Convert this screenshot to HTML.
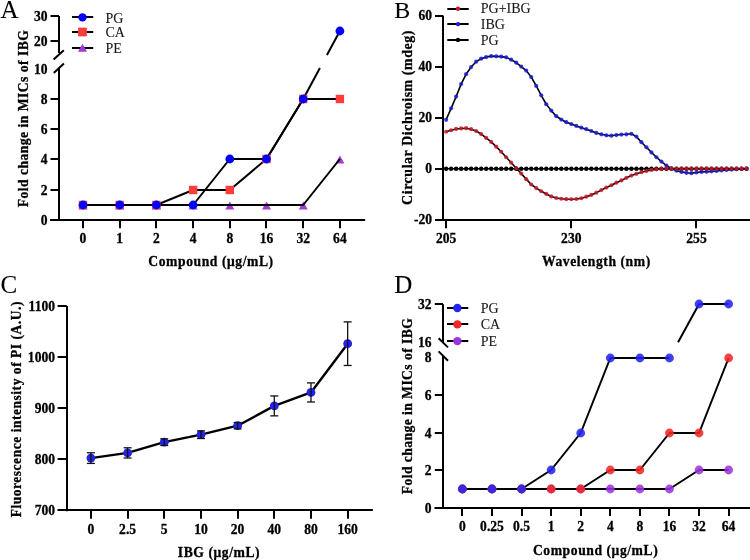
<!DOCTYPE html>
<html><head><meta charset="utf-8"><style>html,body{margin:0;padding:0;background:#fff;width:750px;height:560px;overflow:hidden}svg{display:block;will-change:transform;filter:blur(0.3px)}text{font-family:"Liberation Serif",serif}</style></head><body>
<svg width="750" height="560" viewBox="0 0 750 560"><text x="0" y="0" transform="translate(0.60 17.60)" font-family="Liberation Serif" font-size="25" fill="#000" stroke="#000" stroke-width="0.1" text-anchor="start">A</text>
<line x1="59.00" y1="16.00" x2="59.00" y2="53.00" stroke="#000" stroke-width="2" stroke-linecap="butt"/>
<line x1="59.00" y1="67.50" x2="59.00" y2="220.70" stroke="#000" stroke-width="2" stroke-linecap="butt"/>
<line x1="53.60" y1="59.50" x2="63.80" y2="50.20" stroke="#000" stroke-width="2" stroke-linecap="butt"/>
<line x1="53.80" y1="72.90" x2="63.90" y2="63.40" stroke="#000" stroke-width="2" stroke-linecap="butt"/>
<line x1="50.50" y1="16.00" x2="59.00" y2="16.00" stroke="#000" stroke-width="2" stroke-linecap="butt"/>
<text x="0" y="0" transform="translate(47.50 20.60) scale(0.95 1.0)" font-family="Liberation Serif" font-size="14.3" font-weight="bold" fill="#000" stroke="#000" stroke-width="0.3" text-anchor="end">30</text>
<line x1="50.50" y1="41.00" x2="59.00" y2="41.00" stroke="#000" stroke-width="2" stroke-linecap="butt"/>
<text x="0" y="0" transform="translate(47.50 45.60) scale(0.95 1.0)" font-family="Liberation Serif" font-size="14.3" font-weight="bold" fill="#000" stroke="#000" stroke-width="0.3" text-anchor="end">20</text>
<text x="0" y="0" transform="translate(47.50 73.50) scale(0.95 1.0)" font-family="Liberation Serif" font-size="14.3" font-weight="bold" fill="#000" stroke="#000" stroke-width="0.3" text-anchor="end">10</text>
<line x1="50.50" y1="99.00" x2="59.00" y2="99.00" stroke="#000" stroke-width="2" stroke-linecap="butt"/>
<text x="0" y="0" transform="translate(47.50 103.60) scale(0.95 1.0)" font-family="Liberation Serif" font-size="14.3" font-weight="bold" fill="#000" stroke="#000" stroke-width="0.3" text-anchor="end">8</text>
<line x1="50.50" y1="129.00" x2="59.00" y2="129.00" stroke="#000" stroke-width="2" stroke-linecap="butt"/>
<text x="0" y="0" transform="translate(47.50 133.60) scale(0.95 1.0)" font-family="Liberation Serif" font-size="14.3" font-weight="bold" fill="#000" stroke="#000" stroke-width="0.3" text-anchor="end">6</text>
<line x1="50.50" y1="159.00" x2="59.00" y2="159.00" stroke="#000" stroke-width="2" stroke-linecap="butt"/>
<text x="0" y="0" transform="translate(47.50 163.60) scale(0.95 1.0)" font-family="Liberation Serif" font-size="14.3" font-weight="bold" fill="#000" stroke="#000" stroke-width="0.3" text-anchor="end">4</text>
<line x1="50.50" y1="190.00" x2="59.00" y2="190.00" stroke="#000" stroke-width="2" stroke-linecap="butt"/>
<text x="0" y="0" transform="translate(47.50 194.60) scale(0.95 1.0)" font-family="Liberation Serif" font-size="14.3" font-weight="bold" fill="#000" stroke="#000" stroke-width="0.3" text-anchor="end">2</text>
<line x1="50.50" y1="220.00" x2="59.00" y2="220.00" stroke="#000" stroke-width="2" stroke-linecap="butt"/>
<text x="0" y="0" transform="translate(47.50 224.60) scale(0.95 1.0)" font-family="Liberation Serif" font-size="14.3" font-weight="bold" fill="#000" stroke="#000" stroke-width="0.3" text-anchor="end">0</text>
<line x1="50.20" y1="220.00" x2="365.20" y2="220.00" stroke="#000" stroke-width="2" stroke-linecap="butt"/>
<line x1="83.00" y1="219.70" x2="83.00" y2="228.20" stroke="#000" stroke-width="2" stroke-linecap="butt"/>
<text x="0" y="0" transform="translate(83.00 243.00) scale(0.95 1.0)" font-family="Liberation Serif" font-size="14.3" font-weight="bold" fill="#000" stroke="#000" stroke-width="0.3" text-anchor="middle">0</text>
<line x1="120.00" y1="219.70" x2="120.00" y2="228.20" stroke="#000" stroke-width="2" stroke-linecap="butt"/>
<text x="0" y="0" transform="translate(119.70 243.00) scale(0.95 1.0)" font-family="Liberation Serif" font-size="14.3" font-weight="bold" fill="#000" stroke="#000" stroke-width="0.3" text-anchor="middle">1</text>
<line x1="156.00" y1="219.70" x2="156.00" y2="228.20" stroke="#000" stroke-width="2" stroke-linecap="butt"/>
<text x="0" y="0" transform="translate(156.40 243.00) scale(0.95 1.0)" font-family="Liberation Serif" font-size="14.3" font-weight="bold" fill="#000" stroke="#000" stroke-width="0.3" text-anchor="middle">2</text>
<line x1="193.00" y1="219.70" x2="193.00" y2="228.20" stroke="#000" stroke-width="2" stroke-linecap="butt"/>
<text x="0" y="0" transform="translate(193.10 243.00) scale(0.95 1.0)" font-family="Liberation Serif" font-size="14.3" font-weight="bold" fill="#000" stroke="#000" stroke-width="0.3" text-anchor="middle">4</text>
<line x1="230.00" y1="219.70" x2="230.00" y2="228.20" stroke="#000" stroke-width="2" stroke-linecap="butt"/>
<text x="0" y="0" transform="translate(229.80 243.00) scale(0.95 1.0)" font-family="Liberation Serif" font-size="14.3" font-weight="bold" fill="#000" stroke="#000" stroke-width="0.3" text-anchor="middle">8</text>
<line x1="266.00" y1="219.70" x2="266.00" y2="228.20" stroke="#000" stroke-width="2" stroke-linecap="butt"/>
<text x="0" y="0" transform="translate(266.50 243.00) scale(0.95 1.0)" font-family="Liberation Serif" font-size="14.3" font-weight="bold" fill="#000" stroke="#000" stroke-width="0.3" text-anchor="middle">16</text>
<line x1="303.00" y1="219.70" x2="303.00" y2="228.20" stroke="#000" stroke-width="2" stroke-linecap="butt"/>
<text x="0" y="0" transform="translate(303.20 243.00) scale(0.95 1.0)" font-family="Liberation Serif" font-size="14.3" font-weight="bold" fill="#000" stroke="#000" stroke-width="0.3" text-anchor="middle">32</text>
<line x1="340.00" y1="219.70" x2="340.00" y2="228.20" stroke="#000" stroke-width="2" stroke-linecap="butt"/>
<text x="0" y="0" transform="translate(339.90 243.00) scale(0.95 1.0)" font-family="Liberation Serif" font-size="14.3" font-weight="bold" fill="#000" stroke="#000" stroke-width="0.3" text-anchor="middle">64</text>
<text x="0" y="0" transform="translate(211.00 265.60) scale(0.94 1.0)" font-family="Liberation Serif" font-size="14.5" font-weight="bold" letter-spacing="0.6" fill="#000" stroke="#000" stroke-width="0.3" text-anchor="middle">Compound (μg/mL)</text>
<text x="0" y="0" transform="translate(28.00 118.50) rotate(-90) scale(0.94 1.0)" font-family="Liberation Serif" font-size="14.5" font-weight="bold" letter-spacing="0.5" fill="#000" stroke="#000" stroke-width="0.3" text-anchor="middle">Fold change in MICs of IBG</text>
<polygon points="78.50,209.55 87.50,209.55 83.00,201.45" fill="#a23ad8"/>
<polygon points="115.20,209.55 124.20,209.55 119.70,201.45" fill="#a23ad8"/>
<polygon points="151.90,209.55 160.90,209.55 156.40,201.45" fill="#a23ad8"/>
<polygon points="188.60,209.55 197.60,209.55 193.10,201.45" fill="#a23ad8"/>
<polygon points="225.30,209.55 234.30,209.55 229.80,201.45" fill="#a23ad8"/>
<polygon points="262.00,209.55 271.00,209.55 266.50,201.45" fill="#a23ad8"/>
<polygon points="298.70,209.55 307.70,209.55 303.20,201.45" fill="#a23ad8"/>
<polygon points="335.40,163.55 344.40,163.55 339.90,155.45" fill="#a23ad8"/>
<polyline points="83.00,205.00 119.70,205.00 156.40,205.00 193.10,205.00 229.80,205.00 266.50,205.00 303.20,205.00 339.90,159.00" fill="none" stroke="#000" stroke-width="2" stroke-linejoin="round"/>
<polyline points="83.00,205.00 119.70,205.00 156.40,205.00 193.10,190.00 229.80,190.00 266.50,159.00 303.20,99.00 339.90,99.00" fill="none" stroke="#000" stroke-width="2" stroke-linejoin="round"/>
<polyline points="83.00,205.00 119.70,205.00 156.40,205.00 193.10,205.00 229.80,159.00 266.50,159.00 303.20,99.00" fill="none" stroke="#000" stroke-width="2" stroke-linejoin="round"/>
<line x1="303.20" y1="99.00" x2="319.93" y2="68.00" stroke="#000" stroke-width="2" stroke-linecap="butt"/>
<line x1="326.95" y1="55.00" x2="339.90" y2="31.00" stroke="#000" stroke-width="2" stroke-linecap="butt"/>
<rect x="78.80" y="200.80" width="8.4" height="8.4" fill="#ff3b3b"/>
<rect x="115.50" y="200.80" width="8.4" height="8.4" fill="#ff3b3b"/>
<rect x="152.20" y="200.80" width="8.4" height="8.4" fill="#ff3b3b"/>
<rect x="188.90" y="185.80" width="8.4" height="8.4" fill="#ff3b3b"/>
<rect x="225.60" y="185.80" width="8.4" height="8.4" fill="#ff3b3b"/>
<rect x="262.30" y="154.80" width="8.4" height="8.4" fill="#ff3b3b"/>
<rect x="299.00" y="94.80" width="8.4" height="8.4" fill="#ff3b3b"/>
<rect x="335.70" y="94.80" width="8.4" height="8.4" fill="#ff3b3b"/>
<circle cx="83.00" cy="205.00" r="4.4" fill="#0000ff"/>
<circle cx="119.70" cy="205.00" r="4.4" fill="#0000ff"/>
<circle cx="156.40" cy="205.00" r="4.4" fill="#0000ff"/>
<circle cx="193.10" cy="205.00" r="4.4" fill="#0000ff"/>
<circle cx="229.80" cy="159.00" r="4.4" fill="#0000ff"/>
<circle cx="266.50" cy="159.00" r="4.4" fill="#0000ff"/>
<circle cx="303.20" cy="99.00" r="4.4" fill="#0000ff"/>
<circle cx="339.90" cy="31.00" r="4.4" fill="#0000ff"/>
<line x1="72.00" y1="17.00" x2="93.20" y2="17.00" stroke="#000" stroke-width="2" stroke-linecap="butt"/>
<circle cx="82.50" cy="17.40" r="4.2" fill="#0000ff"/>
<text x="0" y="0" transform="translate(105.50 22.70)" font-family="Liberation Serif" font-size="14" fill="#1a1a1a" stroke="#1a1a1a" stroke-width="0.1" text-anchor="start">PG</text>
<line x1="72.00" y1="32.00" x2="93.20" y2="32.00" stroke="#000" stroke-width="2" stroke-linecap="butt"/>
<rect x="78.15" y="27.65" width="8.7" height="8.7" fill="#ff3b3b"/>
<text x="0" y="0" transform="translate(105.50 37.30)" font-family="Liberation Serif" font-size="14" fill="#1a1a1a" stroke="#1a1a1a" stroke-width="0.1" text-anchor="start">CA</text>
<line x1="72.00" y1="48.00" x2="93.20" y2="48.00" stroke="#000" stroke-width="2" stroke-linecap="butt"/>
<polygon points="78.00,51.85 87.00,51.85 82.50,43.75" fill="#a23ad8"/>
<text x="0" y="0" transform="translate(105.50 52.80)" font-family="Liberation Serif" font-size="14" fill="#1a1a1a" stroke="#1a1a1a" stroke-width="0.1" text-anchor="start">PE</text>
<text x="0" y="0" transform="translate(394.20 17.50)" font-family="Liberation Serif" font-size="24" fill="#000" stroke="#000" stroke-width="0.1" text-anchor="start">B</text>
<line x1="443.00" y1="15.80" x2="443.00" y2="220.60" stroke="#000" stroke-width="2" stroke-linecap="butt"/>
<line x1="435.00" y1="16.00" x2="443.30" y2="16.00" stroke="#000" stroke-width="2" stroke-linecap="butt"/>
<text x="0" y="0" transform="translate(432.00 20.45) scale(0.95 1.0)" font-family="Liberation Serif" font-size="14.3" font-weight="bold" fill="#000" stroke="#000" stroke-width="0.3" text-anchor="end">60</text>
<line x1="435.00" y1="67.00" x2="443.30" y2="67.00" stroke="#000" stroke-width="2" stroke-linecap="butt"/>
<text x="0" y="0" transform="translate(432.00 71.40) scale(0.95 1.0)" font-family="Liberation Serif" font-size="14.3" font-weight="bold" fill="#000" stroke="#000" stroke-width="0.3" text-anchor="end">40</text>
<line x1="435.00" y1="118.00" x2="443.30" y2="118.00" stroke="#000" stroke-width="2" stroke-linecap="butt"/>
<text x="0" y="0" transform="translate(432.00 122.35) scale(0.95 1.0)" font-family="Liberation Serif" font-size="14.3" font-weight="bold" fill="#000" stroke="#000" stroke-width="0.3" text-anchor="end">20</text>
<line x1="435.00" y1="169.00" x2="443.30" y2="169.00" stroke="#000" stroke-width="2" stroke-linecap="butt"/>
<text x="0" y="0" transform="translate(432.00 173.30) scale(0.95 1.0)" font-family="Liberation Serif" font-size="14.3" font-weight="bold" fill="#000" stroke="#000" stroke-width="0.3" text-anchor="end">0</text>
<line x1="435.00" y1="220.00" x2="443.30" y2="220.00" stroke="#000" stroke-width="2" stroke-linecap="butt"/>
<text x="0" y="0" transform="translate(432.00 224.25) scale(0.95 1.0)" font-family="Liberation Serif" font-size="14.3" font-weight="bold" fill="#000" stroke="#000" stroke-width="0.3" text-anchor="end">-20</text>
<line x1="435.00" y1="220.00" x2="750.00" y2="220.00" stroke="#000" stroke-width="2" stroke-linecap="butt"/>
<line x1="446.00" y1="219.60" x2="446.00" y2="228.20" stroke="#000" stroke-width="2" stroke-linecap="butt"/>
<text x="0" y="0" transform="translate(446.10 242.60) scale(0.95 1.0)" font-family="Liberation Serif" font-size="14.3" font-weight="bold" fill="#000" stroke="#000" stroke-width="0.3" text-anchor="middle">205</text>
<line x1="571.00" y1="219.60" x2="571.00" y2="228.20" stroke="#000" stroke-width="2" stroke-linecap="butt"/>
<text x="0" y="0" transform="translate(571.30 242.60) scale(0.95 1.0)" font-family="Liberation Serif" font-size="14.3" font-weight="bold" fill="#000" stroke="#000" stroke-width="0.3" text-anchor="middle">230</text>
<line x1="696.00" y1="219.60" x2="696.00" y2="228.20" stroke="#000" stroke-width="2" stroke-linecap="butt"/>
<text x="0" y="0" transform="translate(696.50 242.60) scale(0.95 1.0)" font-family="Liberation Serif" font-size="14.3" font-weight="bold" fill="#000" stroke="#000" stroke-width="0.3" text-anchor="middle">255</text>
<text x="0" y="0" transform="translate(596.40 265.60) scale(0.94 1.0)" font-family="Liberation Serif" font-size="14.5" font-weight="bold" letter-spacing="0.6" fill="#000" stroke="#000" stroke-width="0.3" text-anchor="middle">Wavelength (nm)</text>
<text x="0" y="0" transform="translate(411.50 117.50) rotate(-90) scale(0.94 1.0)" font-family="Liberation Serif" font-size="14.8" font-weight="bold" letter-spacing="0.6" fill="#000" stroke="#000" stroke-width="0.3" text-anchor="middle">Circular Dichroism (mdeg)</text>
<polyline points="446.10,168.70 451.11,168.70 456.12,168.70 461.12,168.70 466.13,168.70 471.14,168.70 476.15,168.70 481.16,168.70 486.16,168.70 491.17,168.70 496.18,168.70 501.19,168.70 506.20,168.70 511.20,168.70 516.21,168.70 521.22,168.70 526.23,168.70 531.24,168.70 536.24,168.70 541.25,168.70 546.26,168.70 551.27,168.70 556.28,168.70 561.28,168.70 566.29,168.70 571.30,168.70 576.31,168.70 581.32,168.70 586.32,168.70 591.33,168.70 596.34,168.70 601.35,168.70 606.36,168.70 611.36,168.70 616.37,168.70 621.38,168.70 626.39,168.70 631.40,168.70 636.40,168.70 641.41,168.70 646.42,168.70 651.43,168.70 656.44,168.70 661.44,168.70 666.45,168.70 671.46,168.70 676.47,168.70 681.48,168.70 686.48,168.70 691.49,168.70 696.50,168.70 701.51,168.70 706.52,168.70 711.52,168.70 716.53,168.70 721.54,168.70 726.55,168.70 731.56,168.70 736.56,168.70 741.57,168.70 746.58,168.70" fill="none" stroke="#000" stroke-width="1.6" stroke-linejoin="round"/>
<circle cx="446.10" cy="168.70" r="2.2" fill="#000"/>
<circle cx="451.11" cy="168.70" r="2.2" fill="#000"/>
<circle cx="456.12" cy="168.70" r="2.2" fill="#000"/>
<circle cx="461.12" cy="168.70" r="2.2" fill="#000"/>
<circle cx="466.13" cy="168.70" r="2.2" fill="#000"/>
<circle cx="471.14" cy="168.70" r="2.2" fill="#000"/>
<circle cx="476.15" cy="168.70" r="2.2" fill="#000"/>
<circle cx="481.16" cy="168.70" r="2.2" fill="#000"/>
<circle cx="486.16" cy="168.70" r="2.2" fill="#000"/>
<circle cx="491.17" cy="168.70" r="2.2" fill="#000"/>
<circle cx="496.18" cy="168.70" r="2.2" fill="#000"/>
<circle cx="501.19" cy="168.70" r="2.2" fill="#000"/>
<circle cx="506.20" cy="168.70" r="2.2" fill="#000"/>
<circle cx="511.20" cy="168.70" r="2.2" fill="#000"/>
<circle cx="516.21" cy="168.70" r="2.2" fill="#000"/>
<circle cx="521.22" cy="168.70" r="2.2" fill="#000"/>
<circle cx="526.23" cy="168.70" r="2.2" fill="#000"/>
<circle cx="531.24" cy="168.70" r="2.2" fill="#000"/>
<circle cx="536.24" cy="168.70" r="2.2" fill="#000"/>
<circle cx="541.25" cy="168.70" r="2.2" fill="#000"/>
<circle cx="546.26" cy="168.70" r="2.2" fill="#000"/>
<circle cx="551.27" cy="168.70" r="2.2" fill="#000"/>
<circle cx="556.28" cy="168.70" r="2.2" fill="#000"/>
<circle cx="561.28" cy="168.70" r="2.2" fill="#000"/>
<circle cx="566.29" cy="168.70" r="2.2" fill="#000"/>
<circle cx="571.30" cy="168.70" r="2.2" fill="#000"/>
<circle cx="576.31" cy="168.70" r="2.2" fill="#000"/>
<circle cx="581.32" cy="168.70" r="2.2" fill="#000"/>
<circle cx="586.32" cy="168.70" r="2.2" fill="#000"/>
<circle cx="591.33" cy="168.70" r="2.2" fill="#000"/>
<circle cx="596.34" cy="168.70" r="2.2" fill="#000"/>
<circle cx="601.35" cy="168.70" r="2.2" fill="#000"/>
<circle cx="606.36" cy="168.70" r="2.2" fill="#000"/>
<circle cx="611.36" cy="168.70" r="2.2" fill="#000"/>
<circle cx="616.37" cy="168.70" r="2.2" fill="#000"/>
<circle cx="621.38" cy="168.70" r="2.2" fill="#000"/>
<circle cx="626.39" cy="168.70" r="2.2" fill="#000"/>
<circle cx="631.40" cy="168.70" r="2.2" fill="#000"/>
<circle cx="636.40" cy="168.70" r="2.2" fill="#000"/>
<circle cx="641.41" cy="168.70" r="2.2" fill="#000"/>
<circle cx="646.42" cy="168.70" r="2.2" fill="#000"/>
<circle cx="651.43" cy="168.70" r="2.2" fill="#000"/>
<circle cx="656.44" cy="168.70" r="2.2" fill="#000"/>
<circle cx="661.44" cy="168.70" r="2.2" fill="#000"/>
<circle cx="666.45" cy="168.70" r="2.2" fill="#000"/>
<circle cx="671.46" cy="168.70" r="2.2" fill="#000"/>
<circle cx="676.47" cy="168.70" r="2.2" fill="#000"/>
<circle cx="681.48" cy="168.70" r="2.2" fill="#000"/>
<circle cx="686.48" cy="168.70" r="2.2" fill="#000"/>
<circle cx="691.49" cy="168.70" r="2.2" fill="#000"/>
<circle cx="696.50" cy="168.70" r="2.2" fill="#000"/>
<circle cx="701.51" cy="168.70" r="2.2" fill="#000"/>
<circle cx="706.52" cy="168.70" r="2.2" fill="#000"/>
<circle cx="711.52" cy="168.70" r="2.2" fill="#000"/>
<circle cx="716.53" cy="168.70" r="2.2" fill="#000"/>
<circle cx="721.54" cy="168.70" r="2.2" fill="#000"/>
<circle cx="726.55" cy="168.70" r="2.2" fill="#000"/>
<circle cx="731.56" cy="168.70" r="2.2" fill="#000"/>
<circle cx="736.56" cy="168.70" r="2.2" fill="#000"/>
<circle cx="741.57" cy="168.70" r="2.2" fill="#000"/>
<circle cx="746.58" cy="168.70" r="2.2" fill="#000"/>
<polyline points="446.10,119.79 451.11,108.32 456.12,96.61 461.12,84.12 466.13,74.19 471.14,67.05 476.15,61.70 481.16,58.65 486.16,57.12 491.17,56.10 496.18,56.36 501.19,56.61 506.20,57.37 511.20,59.67 516.21,62.72 521.22,66.55 526.23,70.62 531.24,76.99 536.24,85.91 541.25,95.33 546.26,104.25 551.27,110.62 556.28,116.22 561.28,119.53 566.29,122.21 571.30,124.12 576.31,125.90 581.32,127.69 586.32,129.21 591.33,131.00 596.34,132.91 601.35,134.31 606.36,135.33 611.36,135.71 616.37,135.07 621.38,134.56 626.39,134.31 631.40,133.80 636.40,136.60 641.41,142.21 646.42,147.30 651.43,152.40 656.44,157.24 661.44,161.57 666.45,165.64 671.46,168.45 676.47,170.74 681.48,171.88 686.48,172.78 691.49,173.16 696.50,172.52 701.51,171.88 706.52,171.76 711.52,171.37 716.53,170.99 721.54,170.48 726.55,169.97 731.56,169.59 736.56,169.21 741.57,168.95 746.58,168.70" fill="none" stroke="#000" stroke-width="1.6" stroke-linejoin="round"/>
<circle cx="446.10" cy="119.79" r="2.1" fill="#1c1cd8" fill-opacity="0.85"/>
<circle cx="451.11" cy="108.32" r="2.1" fill="#1c1cd8" fill-opacity="0.85"/>
<circle cx="456.12" cy="96.61" r="2.1" fill="#1c1cd8" fill-opacity="0.85"/>
<circle cx="461.12" cy="84.12" r="2.1" fill="#1c1cd8" fill-opacity="0.85"/>
<circle cx="466.13" cy="74.19" r="2.1" fill="#1c1cd8" fill-opacity="0.85"/>
<circle cx="471.14" cy="67.05" r="2.1" fill="#1c1cd8" fill-opacity="0.85"/>
<circle cx="476.15" cy="61.70" r="2.1" fill="#1c1cd8" fill-opacity="0.85"/>
<circle cx="481.16" cy="58.65" r="2.1" fill="#1c1cd8" fill-opacity="0.85"/>
<circle cx="486.16" cy="57.12" r="2.1" fill="#1c1cd8" fill-opacity="0.85"/>
<circle cx="491.17" cy="56.10" r="2.1" fill="#1c1cd8" fill-opacity="0.85"/>
<circle cx="496.18" cy="56.36" r="2.1" fill="#1c1cd8" fill-opacity="0.85"/>
<circle cx="501.19" cy="56.61" r="2.1" fill="#1c1cd8" fill-opacity="0.85"/>
<circle cx="506.20" cy="57.37" r="2.1" fill="#1c1cd8" fill-opacity="0.85"/>
<circle cx="511.20" cy="59.67" r="2.1" fill="#1c1cd8" fill-opacity="0.85"/>
<circle cx="516.21" cy="62.72" r="2.1" fill="#1c1cd8" fill-opacity="0.85"/>
<circle cx="521.22" cy="66.55" r="2.1" fill="#1c1cd8" fill-opacity="0.85"/>
<circle cx="526.23" cy="70.62" r="2.1" fill="#1c1cd8" fill-opacity="0.85"/>
<circle cx="531.24" cy="76.99" r="2.1" fill="#1c1cd8" fill-opacity="0.85"/>
<circle cx="536.24" cy="85.91" r="2.1" fill="#1c1cd8" fill-opacity="0.85"/>
<circle cx="541.25" cy="95.33" r="2.1" fill="#1c1cd8" fill-opacity="0.85"/>
<circle cx="546.26" cy="104.25" r="2.1" fill="#1c1cd8" fill-opacity="0.85"/>
<circle cx="551.27" cy="110.62" r="2.1" fill="#1c1cd8" fill-opacity="0.85"/>
<circle cx="556.28" cy="116.22" r="2.1" fill="#1c1cd8" fill-opacity="0.85"/>
<circle cx="561.28" cy="119.53" r="2.1" fill="#1c1cd8" fill-opacity="0.85"/>
<circle cx="566.29" cy="122.21" r="2.1" fill="#1c1cd8" fill-opacity="0.85"/>
<circle cx="571.30" cy="124.12" r="2.1" fill="#1c1cd8" fill-opacity="0.85"/>
<circle cx="576.31" cy="125.90" r="2.1" fill="#1c1cd8" fill-opacity="0.85"/>
<circle cx="581.32" cy="127.69" r="2.1" fill="#1c1cd8" fill-opacity="0.85"/>
<circle cx="586.32" cy="129.21" r="2.1" fill="#1c1cd8" fill-opacity="0.85"/>
<circle cx="591.33" cy="131.00" r="2.1" fill="#1c1cd8" fill-opacity="0.85"/>
<circle cx="596.34" cy="132.91" r="2.1" fill="#1c1cd8" fill-opacity="0.85"/>
<circle cx="601.35" cy="134.31" r="2.1" fill="#1c1cd8" fill-opacity="0.85"/>
<circle cx="606.36" cy="135.33" r="2.1" fill="#1c1cd8" fill-opacity="0.85"/>
<circle cx="611.36" cy="135.71" r="2.1" fill="#1c1cd8" fill-opacity="0.85"/>
<circle cx="616.37" cy="135.07" r="2.1" fill="#1c1cd8" fill-opacity="0.85"/>
<circle cx="621.38" cy="134.56" r="2.1" fill="#1c1cd8" fill-opacity="0.85"/>
<circle cx="626.39" cy="134.31" r="2.1" fill="#1c1cd8" fill-opacity="0.85"/>
<circle cx="631.40" cy="133.80" r="2.1" fill="#1c1cd8" fill-opacity="0.85"/>
<circle cx="636.40" cy="136.60" r="2.1" fill="#1c1cd8" fill-opacity="0.85"/>
<circle cx="641.41" cy="142.21" r="2.1" fill="#1c1cd8" fill-opacity="0.85"/>
<circle cx="646.42" cy="147.30" r="2.1" fill="#1c1cd8" fill-opacity="0.85"/>
<circle cx="651.43" cy="152.40" r="2.1" fill="#1c1cd8" fill-opacity="0.85"/>
<circle cx="656.44" cy="157.24" r="2.1" fill="#1c1cd8" fill-opacity="0.85"/>
<circle cx="661.44" cy="161.57" r="2.1" fill="#1c1cd8" fill-opacity="0.85"/>
<circle cx="666.45" cy="165.64" r="2.1" fill="#1c1cd8" fill-opacity="0.85"/>
<circle cx="671.46" cy="168.45" r="2.1" fill="#1c1cd8" fill-opacity="0.85"/>
<circle cx="676.47" cy="170.74" r="2.1" fill="#1c1cd8" fill-opacity="0.85"/>
<circle cx="681.48" cy="171.88" r="2.1" fill="#1c1cd8" fill-opacity="0.85"/>
<circle cx="686.48" cy="172.78" r="2.1" fill="#1c1cd8" fill-opacity="0.85"/>
<circle cx="691.49" cy="173.16" r="2.1" fill="#1c1cd8" fill-opacity="0.85"/>
<circle cx="696.50" cy="172.52" r="2.1" fill="#1c1cd8" fill-opacity="0.85"/>
<circle cx="701.51" cy="171.88" r="2.1" fill="#1c1cd8" fill-opacity="0.85"/>
<circle cx="706.52" cy="171.76" r="2.1" fill="#1c1cd8" fill-opacity="0.85"/>
<circle cx="711.52" cy="171.37" r="2.1" fill="#1c1cd8" fill-opacity="0.85"/>
<circle cx="716.53" cy="170.99" r="2.1" fill="#1c1cd8" fill-opacity="0.85"/>
<circle cx="721.54" cy="170.48" r="2.1" fill="#1c1cd8" fill-opacity="0.85"/>
<circle cx="726.55" cy="169.97" r="2.1" fill="#1c1cd8" fill-opacity="0.85"/>
<circle cx="731.56" cy="169.59" r="2.1" fill="#1c1cd8" fill-opacity="0.85"/>
<circle cx="736.56" cy="169.21" r="2.1" fill="#1c1cd8" fill-opacity="0.85"/>
<circle cx="741.57" cy="168.95" r="2.1" fill="#1c1cd8" fill-opacity="0.85"/>
<circle cx="746.58" cy="168.70" r="2.1" fill="#1c1cd8" fill-opacity="0.85"/>
<polyline points="446.10,131.76 451.11,130.23 456.12,128.96 461.12,128.45 466.13,128.19 471.14,129.21 476.15,131.00 481.16,134.05 486.16,137.88 491.17,141.95 496.18,146.66 501.19,151.76 506.20,157.24 511.20,162.71 516.21,168.19 521.22,173.54 526.23,179.14 531.24,184.49 536.24,188.06 541.25,191.25 546.26,193.92 551.27,196.47 556.28,198.00 561.28,198.76 566.29,199.14 571.30,199.27 576.31,199.02 581.32,198.25 586.32,196.72 591.33,194.94 596.34,192.65 601.35,190.10 606.36,187.55 611.36,185.26 616.37,182.71 621.38,180.42 626.39,177.87 631.40,175.58 636.40,173.79 641.41,172.27 646.42,170.99 651.43,169.97 656.44,169.34 661.44,168.95 666.45,168.70 671.46,168.70 676.47,168.70 681.48,168.70 686.48,168.70 691.49,168.70 696.50,168.70 701.51,168.70 706.52,168.70 711.52,168.70 716.53,168.70 721.54,168.70 726.55,168.70 731.56,168.70 736.56,168.70 741.57,168.70 746.58,168.70" fill="none" stroke="#000" stroke-width="1.6" stroke-linejoin="round"/>
<circle cx="446.10" cy="131.76" r="2.1" fill="#c81a28" fill-opacity="0.85"/>
<circle cx="451.11" cy="130.23" r="2.1" fill="#c81a28" fill-opacity="0.85"/>
<circle cx="456.12" cy="128.96" r="2.1" fill="#c81a28" fill-opacity="0.85"/>
<circle cx="461.12" cy="128.45" r="2.1" fill="#c81a28" fill-opacity="0.85"/>
<circle cx="466.13" cy="128.19" r="2.1" fill="#c81a28" fill-opacity="0.85"/>
<circle cx="471.14" cy="129.21" r="2.1" fill="#c81a28" fill-opacity="0.85"/>
<circle cx="476.15" cy="131.00" r="2.1" fill="#c81a28" fill-opacity="0.85"/>
<circle cx="481.16" cy="134.05" r="2.1" fill="#c81a28" fill-opacity="0.85"/>
<circle cx="486.16" cy="137.88" r="2.1" fill="#c81a28" fill-opacity="0.85"/>
<circle cx="491.17" cy="141.95" r="2.1" fill="#c81a28" fill-opacity="0.85"/>
<circle cx="496.18" cy="146.66" r="2.1" fill="#c81a28" fill-opacity="0.85"/>
<circle cx="501.19" cy="151.76" r="2.1" fill="#c81a28" fill-opacity="0.85"/>
<circle cx="506.20" cy="157.24" r="2.1" fill="#c81a28" fill-opacity="0.85"/>
<circle cx="511.20" cy="162.71" r="2.1" fill="#c81a28" fill-opacity="0.85"/>
<circle cx="516.21" cy="168.19" r="2.1" fill="#c81a28" fill-opacity="0.85"/>
<circle cx="521.22" cy="173.54" r="2.1" fill="#c81a28" fill-opacity="0.85"/>
<circle cx="526.23" cy="179.14" r="2.1" fill="#c81a28" fill-opacity="0.85"/>
<circle cx="531.24" cy="184.49" r="2.1" fill="#c81a28" fill-opacity="0.85"/>
<circle cx="536.24" cy="188.06" r="2.1" fill="#c81a28" fill-opacity="0.85"/>
<circle cx="541.25" cy="191.25" r="2.1" fill="#c81a28" fill-opacity="0.85"/>
<circle cx="546.26" cy="193.92" r="2.1" fill="#c81a28" fill-opacity="0.85"/>
<circle cx="551.27" cy="196.47" r="2.1" fill="#c81a28" fill-opacity="0.85"/>
<circle cx="556.28" cy="198.00" r="2.1" fill="#c81a28" fill-opacity="0.85"/>
<circle cx="561.28" cy="198.76" r="2.1" fill="#c81a28" fill-opacity="0.85"/>
<circle cx="566.29" cy="199.14" r="2.1" fill="#c81a28" fill-opacity="0.85"/>
<circle cx="571.30" cy="199.27" r="2.1" fill="#c81a28" fill-opacity="0.85"/>
<circle cx="576.31" cy="199.02" r="2.1" fill="#c81a28" fill-opacity="0.85"/>
<circle cx="581.32" cy="198.25" r="2.1" fill="#c81a28" fill-opacity="0.85"/>
<circle cx="586.32" cy="196.72" r="2.1" fill="#c81a28" fill-opacity="0.85"/>
<circle cx="591.33" cy="194.94" r="2.1" fill="#c81a28" fill-opacity="0.85"/>
<circle cx="596.34" cy="192.65" r="2.1" fill="#c81a28" fill-opacity="0.85"/>
<circle cx="601.35" cy="190.10" r="2.1" fill="#c81a28" fill-opacity="0.85"/>
<circle cx="606.36" cy="187.55" r="2.1" fill="#c81a28" fill-opacity="0.85"/>
<circle cx="611.36" cy="185.26" r="2.1" fill="#c81a28" fill-opacity="0.85"/>
<circle cx="616.37" cy="182.71" r="2.1" fill="#c81a28" fill-opacity="0.85"/>
<circle cx="621.38" cy="180.42" r="2.1" fill="#c81a28" fill-opacity="0.85"/>
<circle cx="626.39" cy="177.87" r="2.1" fill="#c81a28" fill-opacity="0.85"/>
<circle cx="631.40" cy="175.58" r="2.1" fill="#c81a28" fill-opacity="0.85"/>
<circle cx="636.40" cy="173.79" r="2.1" fill="#c81a28" fill-opacity="0.85"/>
<circle cx="641.41" cy="172.27" r="2.1" fill="#c81a28" fill-opacity="0.85"/>
<circle cx="646.42" cy="170.99" r="2.1" fill="#c81a28" fill-opacity="0.85"/>
<circle cx="651.43" cy="169.97" r="2.1" fill="#c81a28" fill-opacity="0.85"/>
<circle cx="656.44" cy="169.34" r="2.1" fill="#c81a28" fill-opacity="0.85"/>
<circle cx="661.44" cy="168.95" r="2.1" fill="#c81a28" fill-opacity="0.85"/>
<circle cx="666.45" cy="168.70" r="2.1" fill="#c81a28" fill-opacity="0.85"/>
<circle cx="671.46" cy="168.70" r="2.1" fill="#c81a28" fill-opacity="0.85"/>
<circle cx="676.47" cy="168.70" r="2.1" fill="#c81a28" fill-opacity="0.85"/>
<circle cx="681.48" cy="168.70" r="2.1" fill="#c81a28" fill-opacity="0.85"/>
<circle cx="686.48" cy="168.70" r="2.1" fill="#c81a28" fill-opacity="0.85"/>
<circle cx="691.49" cy="168.70" r="2.1" fill="#c81a28" fill-opacity="0.85"/>
<circle cx="696.50" cy="168.70" r="2.1" fill="#c81a28" fill-opacity="0.85"/>
<circle cx="701.51" cy="168.70" r="2.1" fill="#c81a28" fill-opacity="0.85"/>
<circle cx="706.52" cy="168.70" r="2.1" fill="#c81a28" fill-opacity="0.85"/>
<circle cx="711.52" cy="168.70" r="2.1" fill="#c81a28" fill-opacity="0.85"/>
<circle cx="716.53" cy="168.70" r="2.1" fill="#c81a28" fill-opacity="0.85"/>
<circle cx="721.54" cy="168.70" r="2.1" fill="#c81a28" fill-opacity="0.85"/>
<circle cx="726.55" cy="168.70" r="2.1" fill="#c81a28" fill-opacity="0.85"/>
<circle cx="731.56" cy="168.70" r="2.1" fill="#c81a28" fill-opacity="0.85"/>
<circle cx="736.56" cy="168.70" r="2.1" fill="#c81a28" fill-opacity="0.85"/>
<circle cx="741.57" cy="168.70" r="2.1" fill="#c81a28" fill-opacity="0.85"/>
<circle cx="746.58" cy="168.70" r="2.1" fill="#c81a28" fill-opacity="0.85"/>
<line x1="447.30" y1="9.00" x2="468.70" y2="9.00" stroke="#000" stroke-width="2" stroke-linecap="butt"/>
<circle cx="458.00" cy="8.70" r="2.2" fill="#c81a28"/>
<text x="0" y="0" transform="translate(480.80 13.30)" font-family="Liberation Serif" font-size="14" fill="#1a1a1a" stroke="#1a1a1a" stroke-width="0.1" text-anchor="start">PG+IBG</text>
<line x1="447.30" y1="24.00" x2="468.70" y2="24.00" stroke="#000" stroke-width="2" stroke-linecap="butt"/>
<circle cx="458.00" cy="24.10" r="2.2" fill="#1c1cd8"/>
<text x="0" y="0" transform="translate(480.80 28.70)" font-family="Liberation Serif" font-size="14" fill="#1a1a1a" stroke="#1a1a1a" stroke-width="0.1" text-anchor="start">IBG</text>
<line x1="447.30" y1="40.00" x2="468.70" y2="40.00" stroke="#000" stroke-width="2" stroke-linecap="butt"/>
<circle cx="458.00" cy="39.90" r="2.2" fill="#000"/>
<text x="0" y="0" transform="translate(480.80 44.50)" font-family="Liberation Serif" font-size="14" fill="#1a1a1a" stroke="#1a1a1a" stroke-width="0.1" text-anchor="start">PG</text>
<text x="0" y="0" transform="translate(0.40 292.80)" font-family="Liberation Serif" font-size="25" fill="#000" stroke="#000" stroke-width="0.1" text-anchor="start">C</text>
<line x1="67.00" y1="306.10" x2="67.00" y2="511.20" stroke="#000" stroke-width="2" stroke-linecap="butt"/>
<line x1="57.60" y1="306.00" x2="66.70" y2="306.00" stroke="#000" stroke-width="2" stroke-linecap="butt"/>
<text x="0" y="0" transform="translate(55.00 310.68) scale(0.95 1.0)" font-family="Liberation Serif" font-size="14.3" font-weight="bold" fill="#000" stroke="#000" stroke-width="0.3" text-anchor="end">1100</text>
<line x1="57.60" y1="357.00" x2="66.70" y2="357.00" stroke="#000" stroke-width="2" stroke-linecap="butt"/>
<text x="0" y="0" transform="translate(55.00 361.71) scale(0.95 1.0)" font-family="Liberation Serif" font-size="14.3" font-weight="bold" fill="#000" stroke="#000" stroke-width="0.3" text-anchor="end">1000</text>
<line x1="57.60" y1="408.00" x2="66.70" y2="408.00" stroke="#000" stroke-width="2" stroke-linecap="butt"/>
<text x="0" y="0" transform="translate(55.00 412.74) scale(0.95 1.0)" font-family="Liberation Serif" font-size="14.3" font-weight="bold" fill="#000" stroke="#000" stroke-width="0.3" text-anchor="end">900</text>
<line x1="57.60" y1="459.00" x2="66.70" y2="459.00" stroke="#000" stroke-width="2" stroke-linecap="butt"/>
<text x="0" y="0" transform="translate(55.00 463.77) scale(0.95 1.0)" font-family="Liberation Serif" font-size="14.3" font-weight="bold" fill="#000" stroke="#000" stroke-width="0.3" text-anchor="end">800</text>
<line x1="57.60" y1="510.00" x2="66.70" y2="510.00" stroke="#000" stroke-width="2" stroke-linecap="butt"/>
<text x="0" y="0" transform="translate(55.00 514.80) scale(0.95 1.0)" font-family="Liberation Serif" font-size="14.3" font-weight="bold" fill="#000" stroke="#000" stroke-width="0.3" text-anchor="end">700</text>
<line x1="57.80" y1="510.00" x2="372.90" y2="510.00" stroke="#000" stroke-width="2" stroke-linecap="butt"/>
<line x1="91.00" y1="510.20" x2="91.00" y2="518.70" stroke="#000" stroke-width="2" stroke-linecap="butt"/>
<text x="0" y="0" transform="translate(90.90 533.80) scale(0.95 1.0)" font-family="Liberation Serif" font-size="14.3" font-weight="bold" fill="#000" stroke="#000" stroke-width="0.3" text-anchor="middle">0</text>
<line x1="128.00" y1="510.20" x2="128.00" y2="518.70" stroke="#000" stroke-width="2" stroke-linecap="butt"/>
<text x="0" y="0" transform="translate(127.58 533.80) scale(0.95 1.0)" font-family="Liberation Serif" font-size="14.3" font-weight="bold" fill="#000" stroke="#000" stroke-width="0.3" text-anchor="middle">2.5</text>
<line x1="164.00" y1="510.20" x2="164.00" y2="518.70" stroke="#000" stroke-width="2" stroke-linecap="butt"/>
<text x="0" y="0" transform="translate(164.26 533.80) scale(0.95 1.0)" font-family="Liberation Serif" font-size="14.3" font-weight="bold" fill="#000" stroke="#000" stroke-width="0.3" text-anchor="middle">5</text>
<line x1="201.00" y1="510.20" x2="201.00" y2="518.70" stroke="#000" stroke-width="2" stroke-linecap="butt"/>
<text x="0" y="0" transform="translate(200.94 533.80) scale(0.95 1.0)" font-family="Liberation Serif" font-size="14.3" font-weight="bold" fill="#000" stroke="#000" stroke-width="0.3" text-anchor="middle">10</text>
<line x1="238.00" y1="510.20" x2="238.00" y2="518.70" stroke="#000" stroke-width="2" stroke-linecap="butt"/>
<text x="0" y="0" transform="translate(237.62 533.80) scale(0.95 1.0)" font-family="Liberation Serif" font-size="14.3" font-weight="bold" fill="#000" stroke="#000" stroke-width="0.3" text-anchor="middle">20</text>
<line x1="274.00" y1="510.20" x2="274.00" y2="518.70" stroke="#000" stroke-width="2" stroke-linecap="butt"/>
<text x="0" y="0" transform="translate(274.30 533.80) scale(0.95 1.0)" font-family="Liberation Serif" font-size="14.3" font-weight="bold" fill="#000" stroke="#000" stroke-width="0.3" text-anchor="middle">40</text>
<line x1="311.00" y1="510.20" x2="311.00" y2="518.70" stroke="#000" stroke-width="2" stroke-linecap="butt"/>
<text x="0" y="0" transform="translate(310.98 533.80) scale(0.95 1.0)" font-family="Liberation Serif" font-size="14.3" font-weight="bold" fill="#000" stroke="#000" stroke-width="0.3" text-anchor="middle">80</text>
<line x1="348.00" y1="510.20" x2="348.00" y2="518.70" stroke="#000" stroke-width="2" stroke-linecap="butt"/>
<text x="0" y="0" transform="translate(347.66 533.80) scale(0.95 1.0)" font-family="Liberation Serif" font-size="14.3" font-weight="bold" fill="#000" stroke="#000" stroke-width="0.3" text-anchor="middle">160</text>
<text x="0" y="0" transform="translate(219.00 556.90) scale(0.94 1.0)" font-family="Liberation Serif" font-size="14.5" font-weight="bold" letter-spacing="0.6" fill="#000" stroke="#000" stroke-width="0.3" text-anchor="middle">IBG (μg/mL)</text>
<text x="0" y="0" transform="translate(21.00 409.20) rotate(-90) scale(0.94 1.0)" font-family="Liberation Serif" font-size="14.3" font-weight="bold" letter-spacing="0.6" fill="#000" stroke="#000" stroke-width="0.3" text-anchor="middle">Fluorescence intensity of PI (A.U.)</text>
<polyline points="90.90,458.10 127.58,452.89 164.26,442.18 200.94,434.68 237.62,425.69 274.30,405.89 310.98,392.42 347.66,343.69" fill="none" stroke="#000" stroke-width="2.4" stroke-linejoin="round"/>
<circle cx="90.90" cy="458.10" r="4.4" fill="#2323e8"/>
<circle cx="127.58" cy="452.89" r="4.4" fill="#2323e8"/>
<circle cx="164.26" cy="442.18" r="4.4" fill="#2323e8"/>
<circle cx="200.94" cy="434.68" r="4.4" fill="#2323e8"/>
<circle cx="237.62" cy="425.69" r="4.4" fill="#2323e8"/>
<circle cx="274.30" cy="405.89" r="4.4" fill="#2323e8"/>
<circle cx="310.98" cy="392.42" r="4.4" fill="#2323e8"/>
<circle cx="347.66" cy="343.69" r="4.4" fill="#2323e8"/>
<line x1="90.90" y1="452.79" x2="90.90" y2="463.41" stroke="#111" stroke-width="1.3" stroke-linecap="butt"/>
<line x1="86.90" y1="452.79" x2="94.90" y2="452.79" stroke="#111" stroke-width="1.3" stroke-linecap="butt"/>
<line x1="86.90" y1="463.41" x2="94.90" y2="463.41" stroke="#111" stroke-width="1.3" stroke-linecap="butt"/>
<line x1="127.58" y1="447.79" x2="127.58" y2="458.00" stroke="#111" stroke-width="1.3" stroke-linecap="butt"/>
<line x1="123.58" y1="447.79" x2="131.58" y2="447.79" stroke="#111" stroke-width="1.3" stroke-linecap="butt"/>
<line x1="123.58" y1="458.00" x2="131.58" y2="458.00" stroke="#111" stroke-width="1.3" stroke-linecap="butt"/>
<line x1="164.26" y1="438.86" x2="164.26" y2="445.49" stroke="#111" stroke-width="1.3" stroke-linecap="butt"/>
<line x1="160.26" y1="438.86" x2="168.26" y2="438.86" stroke="#111" stroke-width="1.3" stroke-linecap="butt"/>
<line x1="160.26" y1="445.49" x2="168.26" y2="445.49" stroke="#111" stroke-width="1.3" stroke-linecap="butt"/>
<line x1="200.94" y1="430.85" x2="200.94" y2="438.50" stroke="#111" stroke-width="1.3" stroke-linecap="butt"/>
<line x1="196.94" y1="430.85" x2="204.94" y2="430.85" stroke="#111" stroke-width="1.3" stroke-linecap="butt"/>
<line x1="196.94" y1="438.50" x2="204.94" y2="438.50" stroke="#111" stroke-width="1.3" stroke-linecap="butt"/>
<line x1="237.62" y1="422.53" x2="237.62" y2="428.86" stroke="#111" stroke-width="1.3" stroke-linecap="butt"/>
<line x1="233.62" y1="422.53" x2="241.62" y2="422.53" stroke="#111" stroke-width="1.3" stroke-linecap="butt"/>
<line x1="233.62" y1="428.86" x2="241.62" y2="428.86" stroke="#111" stroke-width="1.3" stroke-linecap="butt"/>
<line x1="274.30" y1="395.94" x2="274.30" y2="415.85" stroke="#111" stroke-width="1.3" stroke-linecap="butt"/>
<line x1="270.30" y1="395.94" x2="278.30" y2="395.94" stroke="#111" stroke-width="1.3" stroke-linecap="butt"/>
<line x1="270.30" y1="415.85" x2="278.30" y2="415.85" stroke="#111" stroke-width="1.3" stroke-linecap="butt"/>
<line x1="310.98" y1="382.88" x2="310.98" y2="401.97" stroke="#111" stroke-width="1.3" stroke-linecap="butt"/>
<line x1="306.98" y1="382.88" x2="314.98" y2="382.88" stroke="#111" stroke-width="1.3" stroke-linecap="butt"/>
<line x1="306.98" y1="401.97" x2="314.98" y2="401.97" stroke="#111" stroke-width="1.3" stroke-linecap="butt"/>
<line x1="347.66" y1="321.90" x2="347.66" y2="365.48" stroke="#111" stroke-width="1.3" stroke-linecap="butt"/>
<line x1="343.66" y1="321.90" x2="351.66" y2="321.90" stroke="#111" stroke-width="1.3" stroke-linecap="butt"/>
<line x1="343.66" y1="365.48" x2="351.66" y2="365.48" stroke="#111" stroke-width="1.3" stroke-linecap="butt"/>
<text x="0" y="0" transform="translate(394.20 292.60)" font-family="Liberation Serif" font-size="25" fill="#000" stroke="#000" stroke-width="0.1" text-anchor="start">D</text>
<line x1="443.00" y1="304.20" x2="443.00" y2="343.00" stroke="#000" stroke-width="2" stroke-linecap="butt"/>
<line x1="443.00" y1="356.00" x2="443.00" y2="508.60" stroke="#000" stroke-width="2" stroke-linecap="butt"/>
<line x1="438.60" y1="338.30" x2="448.00" y2="347.40" stroke="#000" stroke-width="2" stroke-linecap="butt"/>
<line x1="438.60" y1="351.40" x2="448.00" y2="360.80" stroke="#000" stroke-width="2" stroke-linecap="butt"/>
<line x1="434.80" y1="304.00" x2="443.00" y2="304.00" stroke="#000" stroke-width="2" stroke-linecap="butt"/>
<text x="0" y="0" transform="translate(431.50 308.80) scale(0.95 1.0)" font-family="Liberation Serif" font-size="14.3" font-weight="bold" fill="#000" stroke="#000" stroke-width="0.3" text-anchor="end">32</text>
<text x="0" y="0" transform="translate(431.50 347.10) scale(0.95 1.0)" font-family="Liberation Serif" font-size="14.3" font-weight="bold" fill="#000" stroke="#000" stroke-width="0.3" text-anchor="end">16</text>
<text x="0" y="0" transform="translate(431.50 361.70) scale(0.95 1.0)" font-family="Liberation Serif" font-size="14.3" font-weight="bold" fill="#000" stroke="#000" stroke-width="0.3" text-anchor="end">8</text>
<line x1="434.80" y1="395.00" x2="443.00" y2="395.00" stroke="#000" stroke-width="2" stroke-linecap="butt"/>
<text x="0" y="0" transform="translate(431.50 399.60) scale(0.95 1.0)" font-family="Liberation Serif" font-size="14.3" font-weight="bold" fill="#000" stroke="#000" stroke-width="0.3" text-anchor="end">6</text>
<line x1="434.80" y1="433.00" x2="443.00" y2="433.00" stroke="#000" stroke-width="2" stroke-linecap="butt"/>
<text x="0" y="0" transform="translate(431.50 437.60) scale(0.95 1.0)" font-family="Liberation Serif" font-size="14.3" font-weight="bold" fill="#000" stroke="#000" stroke-width="0.3" text-anchor="end">4</text>
<line x1="434.80" y1="470.00" x2="443.00" y2="470.00" stroke="#000" stroke-width="2" stroke-linecap="butt"/>
<text x="0" y="0" transform="translate(431.50 474.60) scale(0.95 1.0)" font-family="Liberation Serif" font-size="14.3" font-weight="bold" fill="#000" stroke="#000" stroke-width="0.3" text-anchor="end">2</text>
<line x1="434.80" y1="508.00" x2="443.00" y2="508.00" stroke="#000" stroke-width="2" stroke-linecap="butt"/>
<text x="0" y="0" transform="translate(431.50 512.60) scale(0.95 1.0)" font-family="Liberation Serif" font-size="14.3" font-weight="bold" fill="#000" stroke="#000" stroke-width="0.3" text-anchor="end">0</text>
<line x1="434.60" y1="508.00" x2="750.00" y2="508.00" stroke="#000" stroke-width="2" stroke-linecap="butt"/>
<line x1="462.00" y1="507.60" x2="462.00" y2="516.00" stroke="#000" stroke-width="2" stroke-linecap="butt"/>
<text x="0" y="0" transform="translate(462.40 531.00) scale(0.95 1.0)" font-family="Liberation Serif" font-size="14.3" font-weight="bold" fill="#000" stroke="#000" stroke-width="0.3" text-anchor="middle">0</text>
<line x1="492.00" y1="507.60" x2="492.00" y2="516.00" stroke="#000" stroke-width="2" stroke-linecap="butt"/>
<text x="0" y="0" transform="translate(491.98 531.00) scale(0.95 1.0)" font-family="Liberation Serif" font-size="14.3" font-weight="bold" fill="#000" stroke="#000" stroke-width="0.3" text-anchor="middle">0.25</text>
<line x1="522.00" y1="507.60" x2="522.00" y2="516.00" stroke="#000" stroke-width="2" stroke-linecap="butt"/>
<text x="0" y="0" transform="translate(521.56 531.00) scale(0.95 1.0)" font-family="Liberation Serif" font-size="14.3" font-weight="bold" fill="#000" stroke="#000" stroke-width="0.3" text-anchor="middle">0.5</text>
<line x1="551.00" y1="507.60" x2="551.00" y2="516.00" stroke="#000" stroke-width="2" stroke-linecap="butt"/>
<text x="0" y="0" transform="translate(551.14 531.00) scale(0.95 1.0)" font-family="Liberation Serif" font-size="14.3" font-weight="bold" fill="#000" stroke="#000" stroke-width="0.3" text-anchor="middle">1</text>
<line x1="581.00" y1="507.60" x2="581.00" y2="516.00" stroke="#000" stroke-width="2" stroke-linecap="butt"/>
<text x="0" y="0" transform="translate(580.72 531.00) scale(0.95 1.0)" font-family="Liberation Serif" font-size="14.3" font-weight="bold" fill="#000" stroke="#000" stroke-width="0.3" text-anchor="middle">2</text>
<line x1="610.00" y1="507.60" x2="610.00" y2="516.00" stroke="#000" stroke-width="2" stroke-linecap="butt"/>
<text x="0" y="0" transform="translate(610.30 531.00) scale(0.95 1.0)" font-family="Liberation Serif" font-size="14.3" font-weight="bold" fill="#000" stroke="#000" stroke-width="0.3" text-anchor="middle">4</text>
<line x1="640.00" y1="507.60" x2="640.00" y2="516.00" stroke="#000" stroke-width="2" stroke-linecap="butt"/>
<text x="0" y="0" transform="translate(639.88 531.00) scale(0.95 1.0)" font-family="Liberation Serif" font-size="14.3" font-weight="bold" fill="#000" stroke="#000" stroke-width="0.3" text-anchor="middle">8</text>
<line x1="669.00" y1="507.60" x2="669.00" y2="516.00" stroke="#000" stroke-width="2" stroke-linecap="butt"/>
<text x="0" y="0" transform="translate(669.46 531.00) scale(0.95 1.0)" font-family="Liberation Serif" font-size="14.3" font-weight="bold" fill="#000" stroke="#000" stroke-width="0.3" text-anchor="middle">16</text>
<line x1="699.00" y1="507.60" x2="699.00" y2="516.00" stroke="#000" stroke-width="2" stroke-linecap="butt"/>
<text x="0" y="0" transform="translate(699.04 531.00) scale(0.95 1.0)" font-family="Liberation Serif" font-size="14.3" font-weight="bold" fill="#000" stroke="#000" stroke-width="0.3" text-anchor="middle">32</text>
<line x1="729.00" y1="507.60" x2="729.00" y2="516.00" stroke="#000" stroke-width="2" stroke-linecap="butt"/>
<text x="0" y="0" transform="translate(728.62 531.00) scale(0.95 1.0)" font-family="Liberation Serif" font-size="14.3" font-weight="bold" fill="#000" stroke="#000" stroke-width="0.3" text-anchor="middle">64</text>
<text x="0" y="0" transform="translate(595.60 555.20) scale(0.94 1.0)" font-family="Liberation Serif" font-size="14.5" font-weight="bold" letter-spacing="0.6" fill="#000" stroke="#000" stroke-width="0.3" text-anchor="middle">Compound (μg/mL)</text>
<text x="0" y="0" transform="translate(412.00 406.00) rotate(-90) scale(0.94 1.0)" font-family="Liberation Serif" font-size="14.5" font-weight="bold" letter-spacing="0.45" fill="#000" stroke="#000" stroke-width="0.3" text-anchor="middle">Fold change in MICs of IBG</text>
<polyline points="462.40,489.00 491.98,489.00 521.56,489.00 551.14,489.00 580.72,489.00 610.30,489.00 639.88,489.00 669.46,489.00 699.04,470.00 728.62,470.00" fill="none" stroke="#000" stroke-width="2" stroke-linejoin="round"/>
<polyline points="462.40,489.00 491.98,489.00 521.56,489.00 551.14,489.00 580.72,489.00 610.30,470.00 639.88,470.00 669.46,433.00 699.04,433.00 728.62,358.00" fill="none" stroke="#000" stroke-width="2" stroke-linejoin="round"/>
<polyline points="462.40,489.00 491.98,489.00 521.56,489.00 551.14,470.00 580.72,433.00 610.30,358.00 639.88,358.00 669.46,358.00" fill="none" stroke="#000" stroke-width="2" stroke-linejoin="round"/>
<line x1="678.06" y1="342.30" x2="699.04" y2="304.00" stroke="#000" stroke-width="2" stroke-linecap="butt"/>
<polyline points="699.04,304.00 728.62,304.00" fill="none" stroke="#000" stroke-width="2" stroke-linejoin="round"/>
<circle cx="462.40" cy="489.00" r="4.4" fill="#9c34dc" fill-opacity="0.88"/>
<circle cx="491.98" cy="489.00" r="4.4" fill="#9c34dc" fill-opacity="0.88"/>
<circle cx="521.56" cy="489.00" r="4.4" fill="#9c34dc" fill-opacity="0.88"/>
<circle cx="551.14" cy="489.00" r="4.4" fill="#9c34dc" fill-opacity="0.88"/>
<circle cx="580.72" cy="489.00" r="4.4" fill="#9c34dc" fill-opacity="0.88"/>
<circle cx="610.30" cy="489.00" r="4.4" fill="#9c34dc" fill-opacity="0.88"/>
<circle cx="639.88" cy="489.00" r="4.4" fill="#9c34dc" fill-opacity="0.88"/>
<circle cx="669.46" cy="489.00" r="4.4" fill="#9c34dc" fill-opacity="0.88"/>
<circle cx="699.04" cy="470.00" r="4.4" fill="#9c34dc" fill-opacity="0.88"/>
<circle cx="728.62" cy="470.00" r="4.4" fill="#9c34dc" fill-opacity="0.88"/>
<circle cx="462.40" cy="489.00" r="4.4" fill="#f02828" fill-opacity="0.88"/>
<circle cx="491.98" cy="489.00" r="4.4" fill="#f02828" fill-opacity="0.88"/>
<circle cx="521.56" cy="489.00" r="4.4" fill="#f02828" fill-opacity="0.88"/>
<circle cx="551.14" cy="489.00" r="4.4" fill="#f02828" fill-opacity="0.88"/>
<circle cx="580.72" cy="489.00" r="4.4" fill="#f02828" fill-opacity="0.88"/>
<circle cx="610.30" cy="470.00" r="4.4" fill="#f02828" fill-opacity="0.88"/>
<circle cx="639.88" cy="470.00" r="4.4" fill="#f02828" fill-opacity="0.88"/>
<circle cx="669.46" cy="433.00" r="4.4" fill="#f02828" fill-opacity="0.88"/>
<circle cx="699.04" cy="433.00" r="4.4" fill="#f02828" fill-opacity="0.88"/>
<circle cx="728.62" cy="358.00" r="4.4" fill="#f02828" fill-opacity="0.88"/>
<circle cx="462.40" cy="489.00" r="4.4" fill="#2424f0" fill-opacity="0.88"/>
<circle cx="491.98" cy="489.00" r="4.4" fill="#2424f0" fill-opacity="0.88"/>
<circle cx="521.56" cy="489.00" r="4.4" fill="#2424f0" fill-opacity="0.88"/>
<circle cx="551.14" cy="470.00" r="4.4" fill="#2424f0" fill-opacity="0.88"/>
<circle cx="580.72" cy="433.00" r="4.4" fill="#2424f0" fill-opacity="0.88"/>
<circle cx="610.30" cy="358.00" r="4.4" fill="#2424f0" fill-opacity="0.88"/>
<circle cx="639.88" cy="358.00" r="4.4" fill="#2424f0" fill-opacity="0.88"/>
<circle cx="669.46" cy="358.00" r="4.4" fill="#2424f0" fill-opacity="0.88"/>
<circle cx="699.04" cy="304.00" r="4.4" fill="#2424f0" fill-opacity="0.88"/>
<circle cx="728.62" cy="304.00" r="4.4" fill="#2424f0" fill-opacity="0.88"/>
<line x1="447.00" y1="308.00" x2="468.30" y2="308.00" stroke="#000" stroke-width="2" stroke-linecap="butt"/>
<circle cx="457.40" cy="308.00" r="4.2" fill="#2424f0"/>
<text x="0" y="0" transform="translate(480.70 312.90)" font-family="Liberation Serif" font-size="14" fill="#1a1a1a" stroke="#1a1a1a" stroke-width="0.1" text-anchor="start">PG</text>
<line x1="447.00" y1="324.00" x2="468.30" y2="324.00" stroke="#000" stroke-width="2" stroke-linecap="butt"/>
<circle cx="457.40" cy="324.40" r="4.2" fill="#f02828"/>
<text x="0" y="0" transform="translate(480.70 329.30)" font-family="Liberation Serif" font-size="14" fill="#1a1a1a" stroke="#1a1a1a" stroke-width="0.1" text-anchor="start">CA</text>
<line x1="447.00" y1="341.00" x2="468.30" y2="341.00" stroke="#000" stroke-width="2" stroke-linecap="butt"/>
<circle cx="457.40" cy="341.10" r="4.2" fill="#9c34dc"/>
<text x="0" y="0" transform="translate(480.70 346.00)" font-family="Liberation Serif" font-size="14" fill="#1a1a1a" stroke="#1a1a1a" stroke-width="0.1" text-anchor="start">PE</text></svg>
</body></html>
